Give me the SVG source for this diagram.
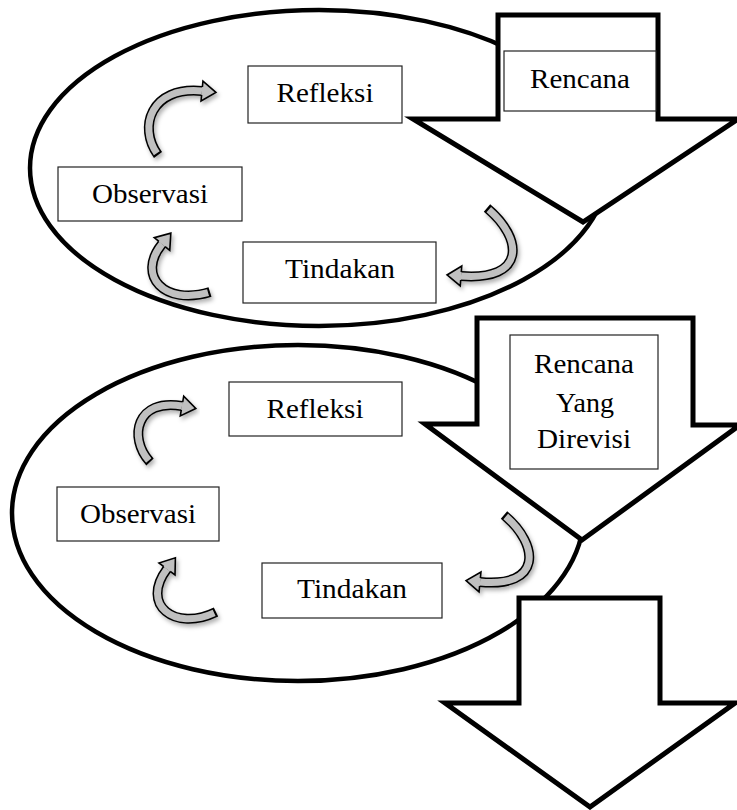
<svg xmlns="http://www.w3.org/2000/svg" width="737" height="810" viewBox="0 0 737 810">
<style>
.ell{fill:#fff;stroke:#000;stroke-width:4.5}
.blk{fill:#fff;stroke:#000;stroke-width:5;stroke-linejoin:miter;stroke-miterlimit:6}
.box{fill:#fff;stroke:#222;stroke-width:1.2}
.lbl{font-family:"Liberation Serif","Times New Roman",serif;font-size:28px;fill:#000;text-anchor:middle}
.cout{fill:none;stroke:#000;stroke-width:10;stroke-linecap:butt}
.cin{fill:none;stroke:#c0c0c0;stroke-width:7;stroke-linecap:butt;stroke-dasharray:0 2 98 0;marker-end:url(#head)}
</style>
<defs>
<marker id="head" markerUnits="userSpaceOnUse" orient="auto" markerWidth="18" markerHeight="24" viewBox="-2 -12 18 24" refX="0" refY="0" overflow="visible">
<path d="M0,-4 L0,-10 L14,0 L0,10 L0,4" fill="#c0c0c0" stroke="#000" stroke-width="1.6" stroke-linejoin="miter"/>
</marker>
<filter id="sh" x="-40%" y="-40%" width="180%" height="180%">
<feDropShadow dx="2" dy="3" stdDeviation="2" flood-color="#000" flood-opacity="0.3"/>
</filter>
</defs>

<g id="cycle1">
<ellipse class="ell" cx="319" cy="168" rx="289" ry="158"/>
</g>
<g id="cycle2">
<ellipse class="ell" cx="298" cy="513" rx="286" ry="168"/>
</g>

<g id="arrow-rencana">
<path class="blk" d="M498,15 H658 V119 H738 L583,222 L413,119 H498 Z"/>
<rect class="box" x="504" y="51" width="152" height="60"/>
<text class="lbl" x="580" y="88" textLength="100" lengthAdjust="spacingAndGlyphs">Rencana</text>
</g>

<g id="arrow-rencana-revisi">
<path class="blk" d="M477,318 H693 V425 H740 L582,540 L425,424 H477 Z"/>
<rect class="box" x="510" y="335" width="148" height="134"/>
<text class="lbl" x="584" y="373" textLength="100" lengthAdjust="spacingAndGlyphs">Rencana</text>
<text class="lbl" x="585" y="412">Yang</text>
<text class="lbl" x="584" y="448" textLength="94" lengthAdjust="spacingAndGlyphs">Direvisi</text>
</g>

<g id="arrow-next">
<path class="blk" d="M519,598 H660 V703 H735 L590,807 L445,703 H519 Z"/>
</g>

<g id="refleksi1">
<rect class="box" x="248" y="66" width="154" height="57"/>
<text class="lbl" x="325" y="102" textLength="97" lengthAdjust="spacingAndGlyphs">Refleksi</text>
</g>
<g id="observasi1">
<rect class="box" x="58" y="167" width="184" height="54"/>
<text class="lbl" x="150" y="203" textLength="116" lengthAdjust="spacingAndGlyphs">Observasi</text>
</g>
<g id="tindakan1">
<rect class="box" x="243" y="242" width="193" height="61"/>
<text class="lbl" x="340" y="278" textLength="110" lengthAdjust="spacingAndGlyphs">Tindakan</text>
</g>

<g id="refleksi2">
<rect class="box" x="229" y="382" width="173" height="54"/>
<text class="lbl" x="315" y="418" textLength="97" lengthAdjust="spacingAndGlyphs">Refleksi</text>
</g>
<g id="observasi2">
<rect class="box" x="57" y="487" width="162" height="54"/>
<text class="lbl" x="138" y="523" textLength="116" lengthAdjust="spacingAndGlyphs">Observasi</text>
</g>
<g id="tindakan2">
<rect class="box" x="262" y="563" width="180" height="55"/>
<text class="lbl" x="352" y="598" textLength="110" lengthAdjust="spacingAndGlyphs">Tindakan</text>
</g>

<g id="connectors">
<g filter="url(#sh)">
<path class="cout" d="M158,155 C138,128 150,86 202,91"/>
<path class="cin" pathLength="100" d="M158,155 C138,128 150,86 202,91"/>
</g>
<g filter="url(#sh)">
<path class="cout" d="M210,292 C165,306 136,276 162,244"/>
<path class="cin" pathLength="100" d="M210,292 C165,306 136,276 162,244"/>
</g>
<g filter="url(#sh)">
<path class="cout" d="M487,208 C523,238 527,281 461,276"/>
<path class="cin" pathLength="100" d="M487,208 C523,238 527,281 461,276"/>
</g>
<g filter="url(#sh)">
<path class="cout" d="M150,462 C128,438 136,398 182,406"/>
<path class="cin" pathLength="100" d="M150,462 C128,438 136,398 182,406"/>
</g>
<g filter="url(#sh)">
<path class="cout" d="M216,612 C175,632 140,605 167,569"/>
<path class="cin" pathLength="100" d="M216,612 C175,632 140,605 167,569"/>
</g>
<g filter="url(#sh)">
<path class="cout" d="M504,515 C540,545 542,588 480,582"/>
<path class="cin" pathLength="100" d="M504,515 C540,545 542,588 480,582"/>
</g>
</g>
</svg>
